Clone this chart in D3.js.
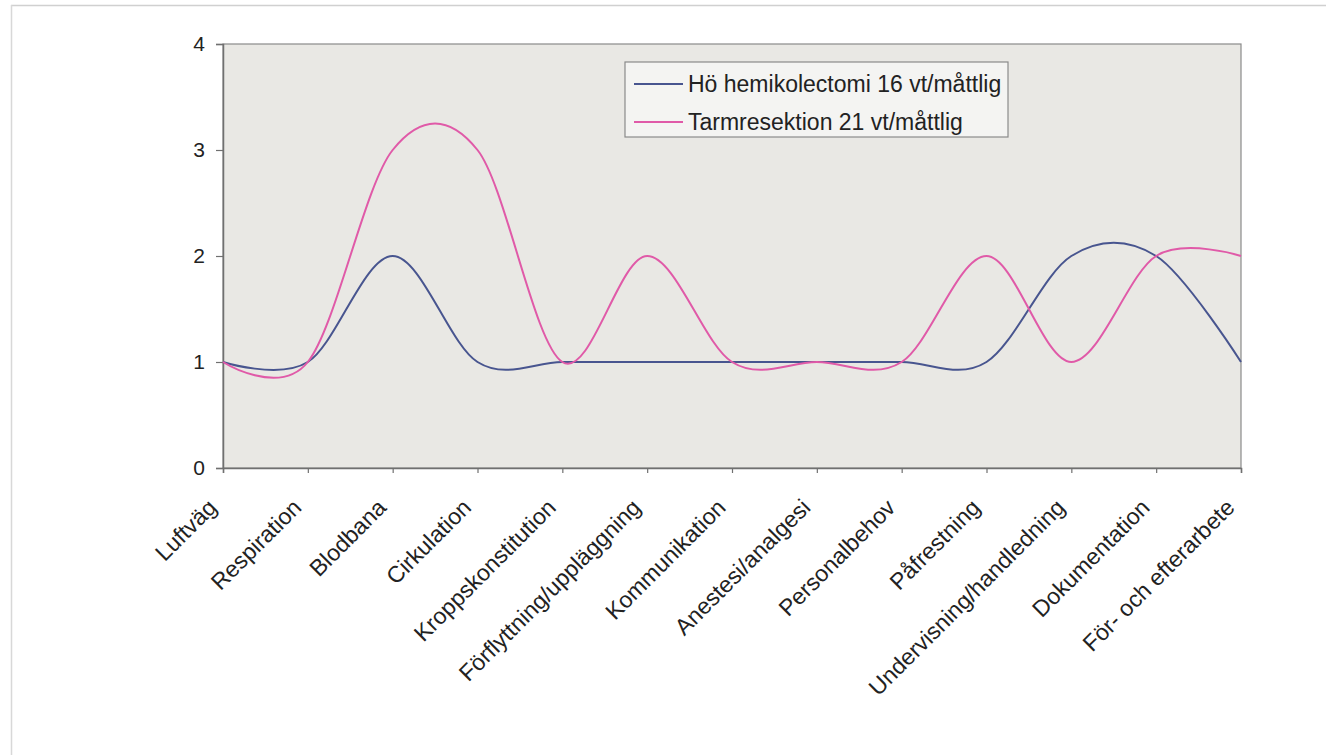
<!DOCTYPE html>
<html>
<head>
<meta charset="utf-8">
<script src="https://cdn.jsdelivr.net/npm/d3@7"></script>
<style>
  html, body { margin: 0; padding: 0; background: #ffffff; }
  svg { display: block; font-family: Arial, "Liberation Sans", sans-serif; }
</style>
</head>
<body>
<svg id="chart" width="1326" height="755"></svg>
<script>
const categories = ["Luftväg", "Respiration", "Blodbana", "Cirkulation", "Kroppskonstitution",
  "Förflyttning/uppläggning", "Kommunikation", "Anestesi/analgesi", "Personalbehov",
  "Påfrestning", "Undervisning/handledning", "Dokumentation", "För- och efterarbete"];
const seriesNames = ["Hö hemikolectomi 16 vt/måttlig", "Tarmresektion 21 vt/måttlig"];
const hemikolectomi = [1, 1, 2, 1, 1, 1, 1, 1, 1, 1, 2, 2, 1];
const tarmresektion = [1, 1, 3, 3, 1, 2, 1, 1, 1, 2, 1, 2, 2];
const yTicks = [0, 1, 2, 3, 4];
const seriesColors = ["#48558f", "#e05aa8"];

const svg = d3.select("#chart");
const plot = { left: 223, right: 1241, top: 44, bottom: 468 };

// outer scanned frame
svg.append("line").attr("x1", 11).attr("x2", 1326).attr("y1", 5.5).attr("y2", 5.5)
  .attr("stroke", "#d0d0d0").attr("stroke-width", 1.5);
svg.append("line").attr("x1", 11.5).attr("x2", 11.5).attr("y1", 5).attr("y2", 755)
  .attr("stroke", "#d8d8d8").attr("stroke-width", 1.5);

const x = d3.scalePoint().domain(categories).range([plot.left, plot.right]).padding(0);
const y = d3.scaleLinear().domain([0, 4]).range([plot.bottom, plot.top]);

// plot area
svg.append("rect")
  .attr("x", plot.left).attr("y", plot.top)
  .attr("width", plot.right - plot.left).attr("height", plot.bottom - plot.top)
  .attr("fill", "#e9e8e4").attr("stroke", "#8a8a8a").attr("stroke-width", 1.2);

// y axis
const yAxis = svg.append("g").attr("transform", `translate(${plot.left},0)`)
  .call(d3.axisLeft(y).tickValues(yTicks).tickFormat(d3.format("d")).tickSize(7).tickPadding(11));
yAxis.select(".domain").attr("stroke", "#707070").attr("stroke-width", 1.5);
yAxis.selectAll(".tick line").attr("stroke", "#707070").attr("stroke-width", 1.2);
yAxis.selectAll(".tick text").attr("font-size", 21).attr("fill", "#222")
  .attr("font-family", "Arial, 'Liberation Sans', sans-serif");

// x axis
const xAxis = svg.append("g").attr("transform", `translate(0,${plot.bottom})`)
  .call(d3.axisBottom(x).tickSize(5).tickFormat(""));
xAxis.select(".domain").attr("stroke", "#707070").attr("stroke-width", 1.5);
xAxis.selectAll(".tick line").attr("stroke", "#707070").attr("stroke-width", 1.2);

svg.append("g").selectAll("text").data(categories).join("text")
  .attr("transform", d => `translate(${x(d) - 5},${plot.bottom + 41}) rotate(-45)`)
  .attr("text-anchor", "end")
  .attr("font-size", 23)
  .attr("fill", "#222")
  .text(d => d);

// lines
const line = d3.line()
  .x((d, i) => x(categories[i]))
  .y(d => y(d))
  .curve(d3.curveCardinal.tension(0));

[hemikolectomi, tarmresektion].forEach((vals, k) => {
  svg.append("path").datum(vals)
    .attr("d", line)
    .attr("fill", "none")
    .attr("stroke", seriesColors[k])
    .attr("stroke-width", 2);
});

// legend
const lg = svg.append("g");
lg.append("rect").attr("x", 625).attr("y", 62).attr("width", 383).attr("height", 75)
  .attr("fill", "#f4f4f2").attr("stroke", "#8a8a8a").attr("stroke-width", 1.2);
seriesNames.forEach((name, k) => {
  const cy = 84 + k * 38;
  lg.append("line").attr("x1", 634).attr("x2", 683).attr("y1", cy).attr("y2", cy)
    .attr("stroke", seriesColors[k]).attr("stroke-width", 2);
  lg.append("text").attr("x", 688).attr("y", cy).attr("dy", "0.36em")
    .attr("font-size", 23).attr("fill", "#222").text(name);
});
</script>
</body>
</html>
